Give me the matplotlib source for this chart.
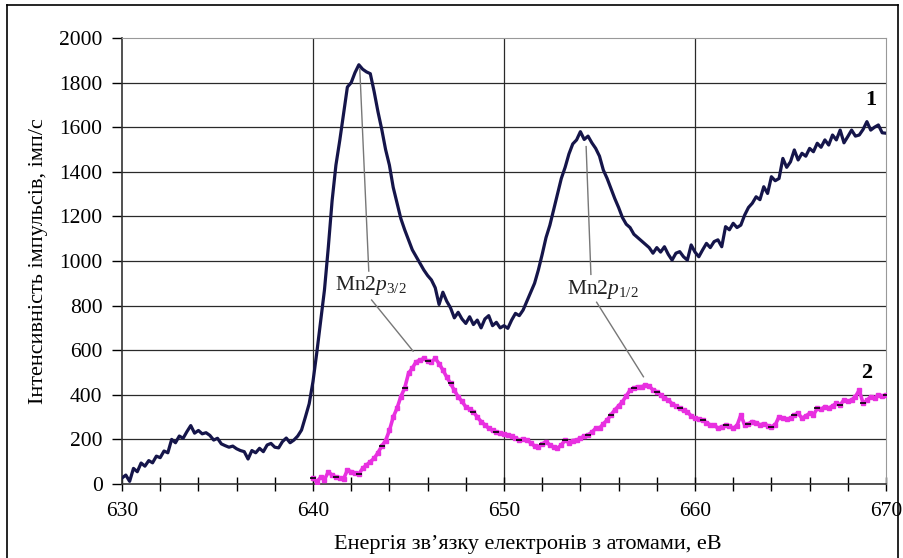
import numpy as np
import matplotlib.pyplot as plt
from matplotlib.ticker import MultipleLocator
from matplotlib.lines import Line2D

plt.rcParams['font.family'] = ['Liberation Serif', 'DejaVu Serif']
plt.rcParams['mathtext.fontset'] = 'custom'
plt.rcParams['mathtext.rm'] = 'Liberation Serif'
plt.rcParams['mathtext.it'] = 'Liberation Serif:italic'

# spectrum 1: 630..670 eV, step 0.2 eV (one row per eV)
energy_1 = np.arange(630.0, 670.001, 0.2)
counts_1 = [
    27, 40, 12, 70, 55,
    94, 80, 105, 95, 125,
    118, 148, 140, 200, 185,
    215, 205, 235, 262, 228,
    240, 225, 230, 218, 197,
    205, 180, 172, 165, 170,
    158, 150, 145, 112, 150,
    140, 160, 145, 175, 182,
    165, 162, 190, 206, 185,
    197, 215, 242, 300, 360,
    460, 590, 730, 870, 1060,
    1270, 1430, 1540, 1660, 1780,
    1800, 1845, 1880, 1860, 1848,
    1840, 1760, 1670, 1590, 1500,
    1430, 1330, 1260, 1190, 1140,
    1095, 1050, 1020, 990, 960,
    935, 915, 880, 805, 860,
    820, 790, 745, 770, 740,
    720, 750, 715, 735, 700,
    740, 755, 710, 725, 700,
    710, 698, 735, 765, 755,
    780, 820, 860, 900, 960,
    1030, 1105, 1160, 1230, 1300,
    1370, 1420, 1480, 1525, 1543,
    1580, 1545, 1560, 1530, 1505,
    1470, 1408, 1370, 1325, 1280,
    1240, 1195, 1165, 1150, 1120,
    1105, 1090, 1075, 1060, 1035,
    1060, 1040, 1064, 1030, 1004,
    1035, 1042, 1019, 1004, 1072,
    1040, 1019, 1050, 1079, 1060,
    1087, 1095, 1064, 1154, 1140,
    1169, 1150, 1161, 1206, 1240,
    1259, 1288, 1275, 1333, 1303,
    1378, 1360, 1370, 1460, 1420,
    1445, 1498, 1453, 1483, 1470,
    1505, 1490, 1528, 1510, 1543,
    1520, 1565, 1543, 1587, 1530,
    1558, 1587, 1560, 1565, 1590,
    1625, 1587, 1600, 1610, 1575,
    1573,
]

# spectrum 2: 640..670 eV, step 0.2 eV
energy_2 = np.arange(640.0, 670.001, 0.2)
counts_2 = [
    25, 10, 30, 20, 54,
    40, 31, 28, 23, 62,
    55, 50, 46, 70, 85,
    100, 115, 140, 170, 195,
    240, 300, 340, 392, 430,
    496, 520, 548, 555, 563,
    550, 548, 563, 540, 511,
    480, 451, 420, 391, 370,
    346, 335, 324, 300, 280,
    265, 250, 240, 232, 227,
    225, 220, 215, 205, 197,
    200, 197, 185, 170, 167,
    180, 190, 175, 165, 160,
    175, 197, 185, 195, 197,
    205, 215, 220, 232, 250,
    250, 270, 287, 310, 332,
    350, 369, 395, 421, 430,
    436, 436, 443, 440, 421,
    414, 400, 384, 377, 360,
    350, 339, 330, 324, 305,
    294, 290, 287, 275, 265,
    265, 250, 256, 265, 260,
    250, 262, 309, 265, 270,
    280, 275, 265, 270, 262,
    257, 265, 302, 295, 290,
    295, 310, 317, 295, 305,
    317, 310, 339, 335, 347,
    340, 350, 362, 355, 377,
    370, 377, 392, 421, 362,
    375, 392, 385, 399, 395,
    399,
]

fig = plt.figure(figsize=(9.04, 5.58), dpi=100)
ax = fig.add_axes([122/904, 1-484/558, (886-122)/904, (484-38)/558])

# manual grid
for yv in range(200, 2000, 200):
    ax.axhline(yv, color='#2a2a2a', lw=0.9, zorder=1)
for xv in (640, 650, 660):
    ax.axvline(xv, color='#2a2a2a', lw=0.9, zorder=1)

ax.plot(energy_1, counts_1, color='#15154a', lw=2.3, zorder=3)
ax.plot(energy_2, counts_2, color='black', lw=1.0, zorder=3)
ax.plot(energy_2, counts_2, color='#e830e0', lw=2.6, marker='s', ms=3.2,
        mec='#e830e0', zorder=4)
ax.plot(energy_2[::6], counts_2[::6], ls='none', marker='_', ms=5,
        color='black', mew=1.2, zorder=5)

ax.set_xlim(630, 670)
ax.set_ylim(0, 2000)
ax.xaxis.set_major_locator(MultipleLocator(10))
ax.xaxis.set_minor_locator(MultipleLocator(2))
ax.yaxis.set_major_locator(MultipleLocator(200))
ax.tick_params(axis='x', which='both', direction='inout', length=10,
               width=1, labelsize=15.5, pad=8)
ax.tick_params(axis='y', direction='out', length=7, width=1,
               labelsize=15.5, pad=7)
for s in ('top', 'right'):
    ax.spines[s].set_color('#999999')
for s in ('left', 'bottom'):
    ax.spines[s].set_color('#333333')
    ax.spines[s].set_linewidth(1.2)

ax.set_xlabel('Енергія зв’язку електронів з атомами, еВ', fontsize=16)
ax.xaxis.set_label_coords((528 - 122) / 764, -0.115)
ax.set_ylabel('Інтенсивність імпульсів, імп/с', fontsize=16, labelpad=8)

# peak labels
ax.text(643.05, 892, r'Mn2$\mathit{p}_{3/2}$', fontsize=15.5, ha='center',
        va='center', color='#222222')
ax.text(655.2, 874, r'Mn2$\mathit{p}_{1/2}$', fontsize=15.5, ha='center',
        va='center', color='#222222')
lc = '#777777'
ax.plot([642.92, 642.45], [955, 1860], color=lc, lw=1, zorder=2)
ax.plot([643.07, 645.24], [825, 596], color=lc, lw=1, zorder=2)
ax.plot([654.55, 654.3], [940, 1513], color=lc, lw=1, zorder=2)
ax.plot([654.85, 657.3], [815, 481], color=lc, lw=1, zorder=2)

ax.text(669.2, 1720, '1', fontsize=16, fontweight='bold', ha='center',
        va='center')
ax.text(669.0, 500, '2', fontsize=16, fontweight='bold', ha='center',
        va='center')

# frame around the picture
for xs, ys in (([7, 7], [0, 553]), ([7, 898], [553, 553]),
               ([898, 898], [0, 553])):
    fig.add_artist(Line2D([x/904 for x in xs], [y/558 for y in ys],
                          color='black', lw=1.2))

fig.savefig('out.png', dpi=100)
